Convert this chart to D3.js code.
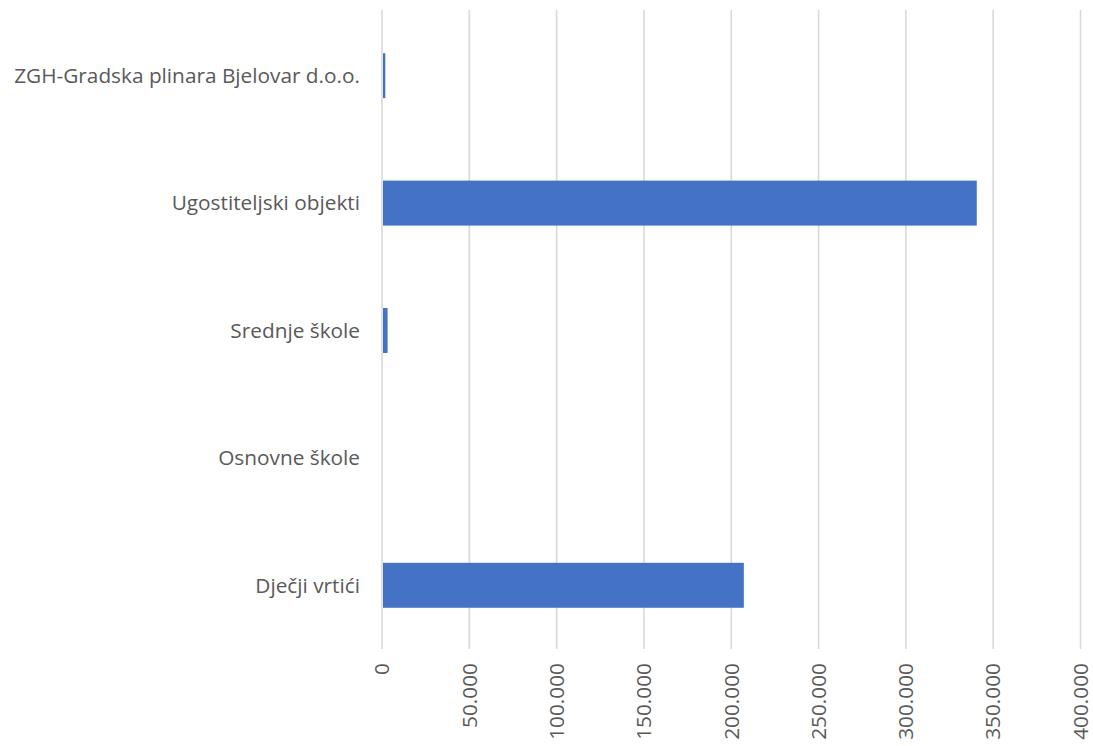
<!DOCTYPE html>
<html><head><meta charset="utf-8">
<script src="https://cdn.jsdelivr.net/npm/d3@7"></script>
<style>body{margin:0;background:#fff}svg{display:block}</style>
</head><body>
<script>
const categories = ["ZGH-Gradska plinara Bjelovar d.o.o.", "Ugostiteljski objekti", "Srednje škole", "Osnovne škole", "Dječji vrtići"];
const values = [1900, 340600, 3200, 0, 207200];
const tickValues = [0, 50000, 100000, 150000, 200000, 250000, 300000, 350000, 400000];
const tickLabels = ["0", "50.000", "100.000", "150.000", "200.000", "250.000", "300.000", "350.000", "400.000"];

const W = 1093, H = 746;
const m = {left: 382, right: 12.5, top: 12, bottom: 97};
const svg = d3.select("body").append("svg").attr("width", W).attr("height", H);
const x = d3.scaleLinear().domain([0, 400000]).range([m.left, W - m.right]);
const y = d3.scaleBand().domain(categories).range([m.top, H - m.bottom]).paddingInner(0.647).paddingOuter(0.3235);
const font = "'Open Sans', sans-serif";

svg.append("g").selectAll("line").data(tickValues).join("line")
  .attr("x1", d => x(d)).attr("x2", d => x(d))
  .attr("y1", 10).attr("y2", H - m.bottom)
  .attr("stroke", "#d9d9d9").attr("stroke-width", 1.6);

svg.append("g").selectAll("rect").data(categories).join("rect")
  .attr("x", x(0) + 1)
  .attr("y", d => y(d))
  .attr("height", y.bandwidth())
  .attr("width", (d, i) => Math.max(0, x(values[i]) - x(0) - 1))
  .attr("fill", "#4472c4");

svg.append("g").selectAll("text").data(categories).join("text")
  .attr("x", 360).attr("y", d => y(d) + y.bandwidth() / 2)
  .attr("dy", "0.35em").attr("text-anchor", "end")
  .attr("font-family", font).attr("font-size", 20.8).attr("fill", "#595959")
  .text(d => d);

svg.append("g").selectAll("text").data(tickValues).join("text")
  .attr("transform", d => `translate(${x(d)},663) rotate(-90)`)
  .attr("dy", "0.35em").attr("text-anchor", "end")
  .attr("font-family", font).attr("font-size", 20.8).attr("fill", "#595959")
  .text((d, i) => tickLabels[i]);
</script>
</body></html>
